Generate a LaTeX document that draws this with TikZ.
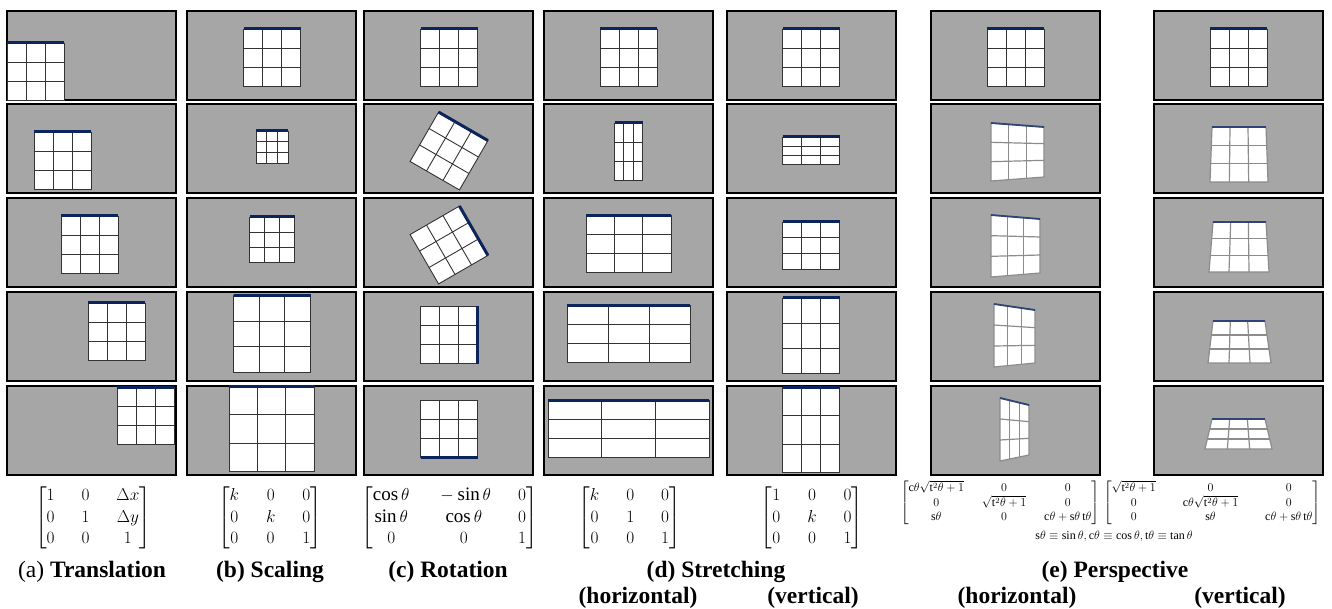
\documentclass[tikz,border=0pt]{standalone}
\usepackage{amsmath}
\usepackage{fontspec}
\setmainfont{Liberation Serif}
\usepackage{tikz}
\usetikzlibrary{calc}

\definecolor{panelgray}{RGB}{166,166,166}
\definecolor{barblue}{RGB}{12,36,92}

% window grid given by its four corners TL, TR, BR, BL
\newcommand{\winquad}[4]{%
  \fill[white] (#1) -- (#2) -- (#3) -- (#4) -- cycle;
  \draw[gline] ($(#1)!0.3333!(#2)$) -- ($(#4)!0.3333!(#3)$);
  \draw[gline] ($(#1)!0.6667!(#2)$) -- ($(#4)!0.6667!(#3)$);
  \draw[gline] ($(#1)!0.3333!(#4)$) -- ($(#2)!0.3333!(#3)$);
  \draw[gline] ($(#1)!0.6667!(#4)$) -- ($(#2)!0.6667!(#3)$);
  \draw[gline] (#1) -- (#2) -- (#3) -- (#4) -- cycle;
  \draw[topbar] (#1) -- (#2);
}
% window grid by centre, width, height
\newcommand{\winbox}[4]{\winquad{#1-#3/2,#2-#4/2}{#1+#3/2,#2-#4/2}{#1+#3/2,#2+#4/2}{#1-#3/2,#2+#4/2}}

\begin{document}
\begin{tikzpicture}[x=1pt, y=-1pt,
    panel/.style={fill=panelgray, draw=black, line width=1.6pt},
    gline/.style={draw=black!80, line width=0.9pt},
    topbar/.style={draw=barblue, line width=3pt},
    mat/.style={font=\fontsize{19}{21.5}\selectfont},
    pmat/.style={font=\fontsize{12}{14}\selectfont},
    lbl/.style={font=\fontsize{23.5}{26}\selectfont}]
  \useasboundingbox (0,0) rectangle (1332,609);

  % gray screens
  \foreach \c in {7,187,364,544,727,931,1154}
    \foreach \r in {11,104,198,292,386}
      \draw[panel] (\c,\r) rectangle ++(169,89);

  % translation
  \winbox{35.5}{71.5}{57}{57}
  \winbox{62.5}{160.5}{57}{57}
  \winbox{89.5}{244.5}{57}{57}
  \winbox{116.5}{331.5}{57}{57}
  \winbox{145.5}{415.5}{57}{57}

  % scaling
  \winbox{272}{57.5}{57}{57}
  \winbox{272}{147}{32}{32}
  \winbox{272}{239.5}{45}{45}
  \winbox{272}{334}{77}{77}
  \winbox{271.5}{429}{85}{85}

  % rotation
  \winbox{449}{57.5}{57}{57}
  \begin{scope}[shift={(449,151)}, rotate=-30]
    \winbox{0}{0}{57}{57}
  \end{scope}
  \begin{scope}[shift={(449,245)}, rotate=-60]
    \winbox{0}{0}{57}{57}
  \end{scope}
  \begin{scope}[shift={(449,335)}, rotate=-90]
    \winbox{0}{0}{57}{57}
  \end{scope}
  \begin{scope}[shift={(449,429)}, rotate=180]
    \winbox{0}{0}{57}{57}
  \end{scope}

  % stretching
  \winbox{628.5}{57.5}{57}{57}
  \winbox{628.5}{151.5}{28}{57}
  \winbox{628.5}{244}{85}{57}
  \winbox{628.5}{334}{123}{57}
  \winbox{628.5}{428.5}{161}{57}

  \winbox{811}{57.5}{57}{57}
  \winbox{811}{150.5}{57}{27}
  \winbox{811}{245.5}{57}{47}
  \winbox{811}{335.5}{57}{75}
  \winbox{811}{430}{57}{85}

  % perspective
  \winbox{1015.5}{57.5}{57}{57}
  \winbox{1238.5}{57.5}{57}{57}
  \begin{scope}[gline/.style={draw=black!45, line width=1.2pt},
                topbar/.style={draw=barblue!85, line width=1.8pt}]
    \winquad{991,123}{1044,127}{1044,177}{991,181}
    \winquad{991,215}{1040,219}{1040,273}{991,277}
    \winquad{994,304}{1035,310}{1035,363}{994,367}
    \winquad{1000,398}{1029,405}{1029,455}{1000,461}

    \winquad{1212,127}{1266,127}{1268,182}{1210,182}
    \winquad{1213,222}{1266,222}{1269,272}{1209,272}
    \winquad{1213,321}{1265,321}{1271,363}{1208,363}
    \winquad{1212,419}{1265,419}{1272,449}{1205,449}
  \end{scope}

  % matrices
  \node[mat] (mA) at (93,518) {$\setlength\arraycolsep{13.5pt}\begin{bmatrix}1&0&\Delta x\\0&1&\Delta y\\0&0&1\end{bmatrix}$};
  \node[mat] (mB) at (270,518) {$\setlength\arraycolsep{13.5pt}\begin{bmatrix}k&0&0\\0&k&0\\0&0&1\end{bmatrix}$};
  \node[mat] (mC) at (449.5,518) {$\setlength\arraycolsep{13.5pt}\begin{bmatrix}\cos\theta&{}-\sin\theta&0\\\sin\theta&\cos\theta&0\\0&0&1\end{bmatrix}$};
  \node[mat] (mDh) at (629.5,518) {$\setlength\arraycolsep{13.5pt}\begin{bmatrix}k&0&0\\0&1&0\\0&0&1\end{bmatrix}$};
  \node[mat] (mDv) at (812,518) {$\setlength\arraycolsep{13.5pt}\begin{bmatrix}1&0&0\\0&k&0\\0&0&1\end{bmatrix}$};
  \node[pmat] (mEh) at (1000,503) {$\setlength\arraycolsep{9pt}\begin{bmatrix}\mathrm{c}\theta\sqrt{\mathrm{t}^2\theta+1}&0&0\\0&\sqrt{\mathrm{t}^2\theta+1}&0\\\mathrm{s}\theta&0&\mathrm{c}\theta+\mathrm{s}\theta\,\mathrm{t}\theta\end{bmatrix}$};
  \node[pmat] (mEv) at (1212,503) {$\setlength\arraycolsep{13.5pt}\begin{bmatrix}\sqrt{\mathrm{t}^2\theta+1}&0&0\\0&\mathrm{c}\theta\sqrt{\mathrm{t}^2\theta+1}&0\\0&\mathrm{s}\theta&\mathrm{c}\theta+\mathrm{s}\theta\,\mathrm{t}\theta\end{bmatrix}$};
  \node[pmat] (defs) at (1114,536) {$\mathrm{s}\theta\equiv\sin\theta,\mathrm{c}\theta\equiv\cos\theta,\mathrm{t}\theta\equiv\tan\theta$};

  % captions
  \node[lbl] (la) at (92,572) {(a) \textbf{Translation}};
  \node[lbl] (lb) at (270,572) {\textbf{(b) Scaling}};
  \node[lbl] (lc) at (448,572) {\textbf{(c) Rotation}};
  \node[lbl] (ld) at (716,572) {\textbf{(d) Stretching}};
  \node[lbl] (ldh) at (638,598) {\textbf{(horizontal)}};
  \node[lbl] (ldv) at (813,598) {\textbf{(vertical)}};
  \node[lbl] (le) at (1115,572) {\textbf{(e) Perspective}};
  \node[lbl] (leh) at (1017,598) {\textbf{(horizontal)}};
  \node[lbl] (lev) at (1240,598) {\textbf{(vertical)}};
\end{tikzpicture}
\end{document}
